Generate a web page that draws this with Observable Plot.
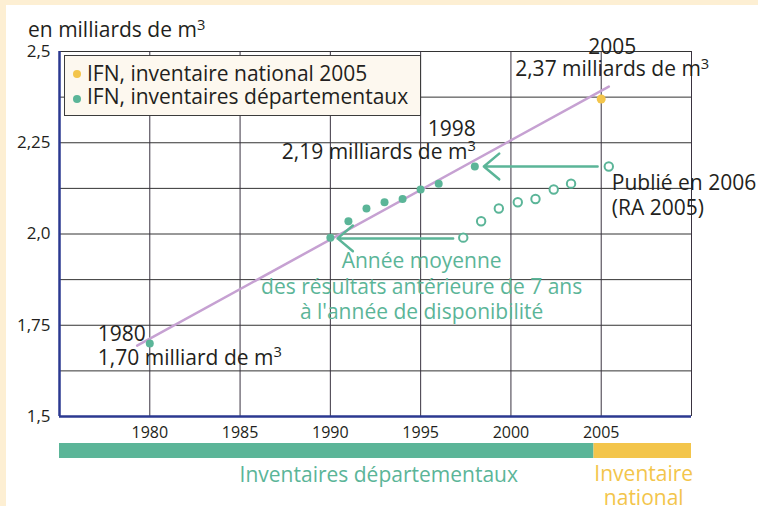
<!DOCTYPE html>
<html><head><meta charset="utf-8">
<script src="https://cdn.jsdelivr.net/npm/d3@7"></script>
<script src="https://cdn.jsdelivr.net/npm/@observablehq/plot@0.6"></script>
<style>
body{margin:0;background:#fdefd3;font-family:"Open Sans",sans-serif;color:#231f20;}
#page{position:relative;width:758px;height:506px;overflow:hidden;}
#panel{position:absolute;left:6px;top:5px;right:0;bottom:0;background:#fff;}
#main,#band{position:absolute;left:0;}
#main{top:0;}
#band{top:443px;}
#ytitle{position:absolute;left:28px;top:16px;font-size:21px;line-height:26px;white-space:nowrap;}
#ytitle sup{font-size:0.7em;vertical-align:0.5em;line-height:0;}
#legend{position:absolute;left:64px;top:55px;width:357px;height:61px;box-sizing:border-box;border:1px solid #3c3c3c;background:#fdf8ef;padding-top:6px;font-size:21px;line-height:23px;}
#legend .row{position:relative;padding-left:22px;white-space:nowrap;}
#legend .dot{position:absolute;left:8px;top:8px;width:8px;height:8px;border-radius:50%;}
#legend .row + .row .dot{top:10px;}
</style></head><body>
<div id="page">
<div id="panel"></div>
<div id="main"></div>
<div id="band"></div>
<div id="ytitle">en milliards de m<sup>3</sup></div>
<div id="legend"></div>
</div>
<script>
// ---- data ----
const depYears  = [1980, 1990, 1991, 1992, 1993, 1994, 1995, 1996, 1998];
const depValues = [1.70, 1.99, 2.035, 2.07, 2.087, 2.096, 2.122, 2.138, 2.185];
const pubYears  = [1997.36, 1998.35, 1999.33, 2000.38, 2001.36, 2002.37, 2003.33, 2005.42];
const pubValues = [1.99, 2.035, 2.07, 2.087, 2.096, 2.122, 2.138, 2.185];
const natYears  = [2005];
const natValues = [2.37];
const trendYears  = [1979.3, 2005.42];
const trendValues = [1.694, 2.404];
const arrowFromYears = [1996.8, 2004.8];
const arrowToYears   = [1990.4, 1998.5];
const arrowValues    = [1.988, 2.185];
const xTicks = [1980, 1985, 1990, 1995, 2000, 2005];
const xTickLabels = ["1980", "1985", "1990", "1995", "2000", "2005"];
const yTicks = [1.5, 1.75, 2.0, 2.25, 2.5];
const yTickLabels = ["1,5", "1,75", "2,0", "2,25", "2,5"];
const gridYValues = [1.625, 1.75, 1.875, 2.0, 2.125, 2.25, 2.375, 2.5];
const gridXValues = [1980, 1985, 1990, 1995, 2000, 2005, 2010];
const xDomain = [1975, 2010];
const yDomain = [1.5, 2.5];
const legendLabels = ["IFN, inventaire national 2005", "IFN, inventaires départementaux"];
const bandLabels = ["Inventaires départementaux", "Inventaire\nnational"];
const bandStart = [1975, 2004.6];
const bandEnd   = [2004.6, 2010];
const label2005 = "2005\n2,37 milliards de m³";
const label1998 = "1998\n2,19 milliards de m³";
const label1980 = "1980\n1,70 milliard de m³";
const labelPub  = "Publié en 2006\n(RA 2005)";
const noteLabel = "Année moyenne\ndes résultats antérieure de 7 ans\nà l'année de disponibilité";

// ---- colours ----
const GREEN = "#5bb598", YELLOW = "#f3c54b", PURPLE = "#c6a1d2", INK = "#231f20", AXIS = "#2b3990";

const dep = depYears.map((x, i) => ({x, y: depValues[i]}));
const pub = pubYears.map((x, i) => ({x, y: pubValues[i]}));
const nat = natYears.map((x, i) => ({x, y: natValues[i]}));
const trend = trendYears.map((x, i) => ({x, y: trendValues[i]}));
const arrows = arrowFromYears.map((x1, i) => ({x1, x2: arrowToYears[i], y: arrowValues[i]}));

const FS = 21;
const txt = {fill: INK, fontSize: FS, lineAnchor: "middle"};
const at = p => [p];

const main = Plot.plot({
  width: 758, height: 445,
  marginLeft: 59, marginRight: 67, marginTop: 51, marginBottom: 29,
  x: {domain: xDomain, label: null},
  y: {domain: yDomain, label: null},
  style: {fontFamily: "Open Sans", fontSize: "15px", color: INK, background: "transparent", overflow: "visible"},
  marks: [
    Plot.ruleY(gridYValues, {stroke: "#333", strokeWidth: 1}),
    Plot.ruleX(gridXValues, {stroke: "#3a3340", strokeWidth: 1}),
    Plot.ruleX([xDomain[0]], {stroke: AXIS, strokeWidth: 2.5}),
    Plot.ruleY([yDomain[0]], {stroke: AXIS, strokeWidth: 2.5}),
    Plot.axisX({ticks: xTicks, tickFormat: d => xTickLabels[xTicks.indexOf(d)], tickSize: 0, tickPadding: 10, fontSize: 16, fill: INK, label: null}),
    Plot.axisY({ticks: yTicks, tickFormat: d => yTickLabels[yTicks.indexOf(d)], tickSize: 0, tickPadding: 9, fontSize: 17, fill: INK, label: null}),
    Plot.line(trend, {x: "x", y: "y", stroke: PURPLE, strokeWidth: 2.5}),
    Plot.arrow(arrows, {x1: "x1", x2: "x2", y1: "y", y2: "y", stroke: GREEN, strokeWidth: 2.5, headLength: 12, headAngle: 80}),
    Plot.dot(dep, {x: "x", y: "y", fill: GREEN, r: 4}),
    Plot.dot(pub, {x: "x", y: "y", fill: "white", stroke: GREEN, strokeWidth: 2, r: 4.2}),
    Plot.dot(nat, {x: "x", y: "y", fill: YELLOW, r: 4.5}),
    Plot.text(at(nat[0]), {x: "x", y: "y", text: () => label2005, ...txt, textAnchor: "middle", lineHeight: 22 / FS, dx: 11, dy: -41}),
    Plot.text(at(dep[8]), {x: "x", y: "y", text: () => label1998, ...txt, textAnchor: "end", lineHeight: 23 / FS, dx: 1, dy: -26.5}),
    Plot.text(at(dep[0]), {x: "x", y: "y", text: () => label1980, ...txt, textAnchor: "start", lineHeight: 24 / FS, dx: -52, dy: 1.5}),
    Plot.text(at(pub[7]), {x: "x", y: "y", text: () => labelPub, ...txt, textAnchor: "start", lineHeight: 25 / FS, dx: 3, dy: 28.5}),
    Plot.text(at({x: 1995, y: arrowValues[0]}), {x: "x", y: "y", text: () => noteLabel, ...txt, fill: GREEN, textAnchor: "middle", lineHeight: 25.5 / FS, dx: 1, dy: 47})
  ]
});
// render "³" as a real superscript
main.querySelectorAll("text, tspan").forEach(el => {
  if (el.children.length === 0 && el.textContent.endsWith("³")) {
    const s = el.textContent;
    el.textContent = s.slice(0, -1);
    const sup = document.createElementNS("http://www.w3.org/2000/svg", "tspan");
    sup.setAttribute("font-size", "0.7em");
    sup.setAttribute("dy", "-0.5em");
    sup.textContent = "3";
    el.appendChild(sup);
  }
});
document.getElementById("main").appendChild(main);

// ---- bottom band ----
const bands = bandLabels.map((label, i) => ({label, x1: bandStart[i], x2: bandEnd[i], xm: (bandStart[i] + bandEnd[i]) / 2}));
const bandColors = [GREEN, YELLOW];
const band = Plot.plot({
  width: 758, height: 63,
  marginLeft: 59, marginRight: 67, marginTop: 0, marginBottom: 48,
  x: {domain: xDomain, axis: null},
  style: {fontFamily: "Open Sans", background: "transparent", overflow: "visible"},
  marks: [
    Plot.rect(bands, {x1: "x1", x2: "x2", fill: (d, i) => bandColors[i]}),
    Plot.text(bands.slice(0, 1), {x: "xm", text: "label", fill: GREEN, fontSize: FS, dx: 52, dy: 24}),
    Plot.text(bands.slice(1), {x: "xm", text: "label", fill: YELLOW, fontSize: FS, lineHeight: 24 / FS, lineAnchor: "middle", dx: 1, dy: 34.5})
  ]
});
document.getElementById("band").appendChild(band);

// ---- legend ----
const legendColors = [YELLOW, GREEN];
const lg = document.getElementById("legend");
legendLabels.forEach((t, i) => {
  const row = document.createElement("div");
  row.className = "row";
  const dot = document.createElement("span");
  dot.className = "dot";
  dot.style.background = legendColors[i];
  row.appendChild(dot);
  row.appendChild(document.createTextNode(t));
  lg.appendChild(row);
});
</script>
</body></html>
